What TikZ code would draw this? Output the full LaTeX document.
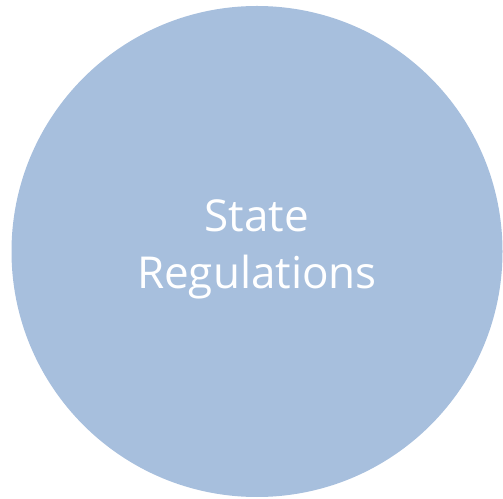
\documentclass[tikz,border=0pt]{standalone}
\usepackage{fontspec}
\setmainfont{Open Sans}
\definecolor{circfill}{HTML}{A7BFDD}
\tikzset{bubble/.style={circle,fill=circfill,draw=none,minimum size=491pt,inner sep=0pt},
  lbl/.style={text=white,align=center,font=\fontsize{44}{57}\selectfont}}
\begin{document}
\begin{tikzpicture}[x=1pt,y=1pt]
\useasboundingbox (0,0) rectangle (503,498);
\node[bubble] (c) at (257,246.5) {};
\node[lbl] (t) at (257,249) {State\\Regulations};
\end{tikzpicture}
\end{document}
